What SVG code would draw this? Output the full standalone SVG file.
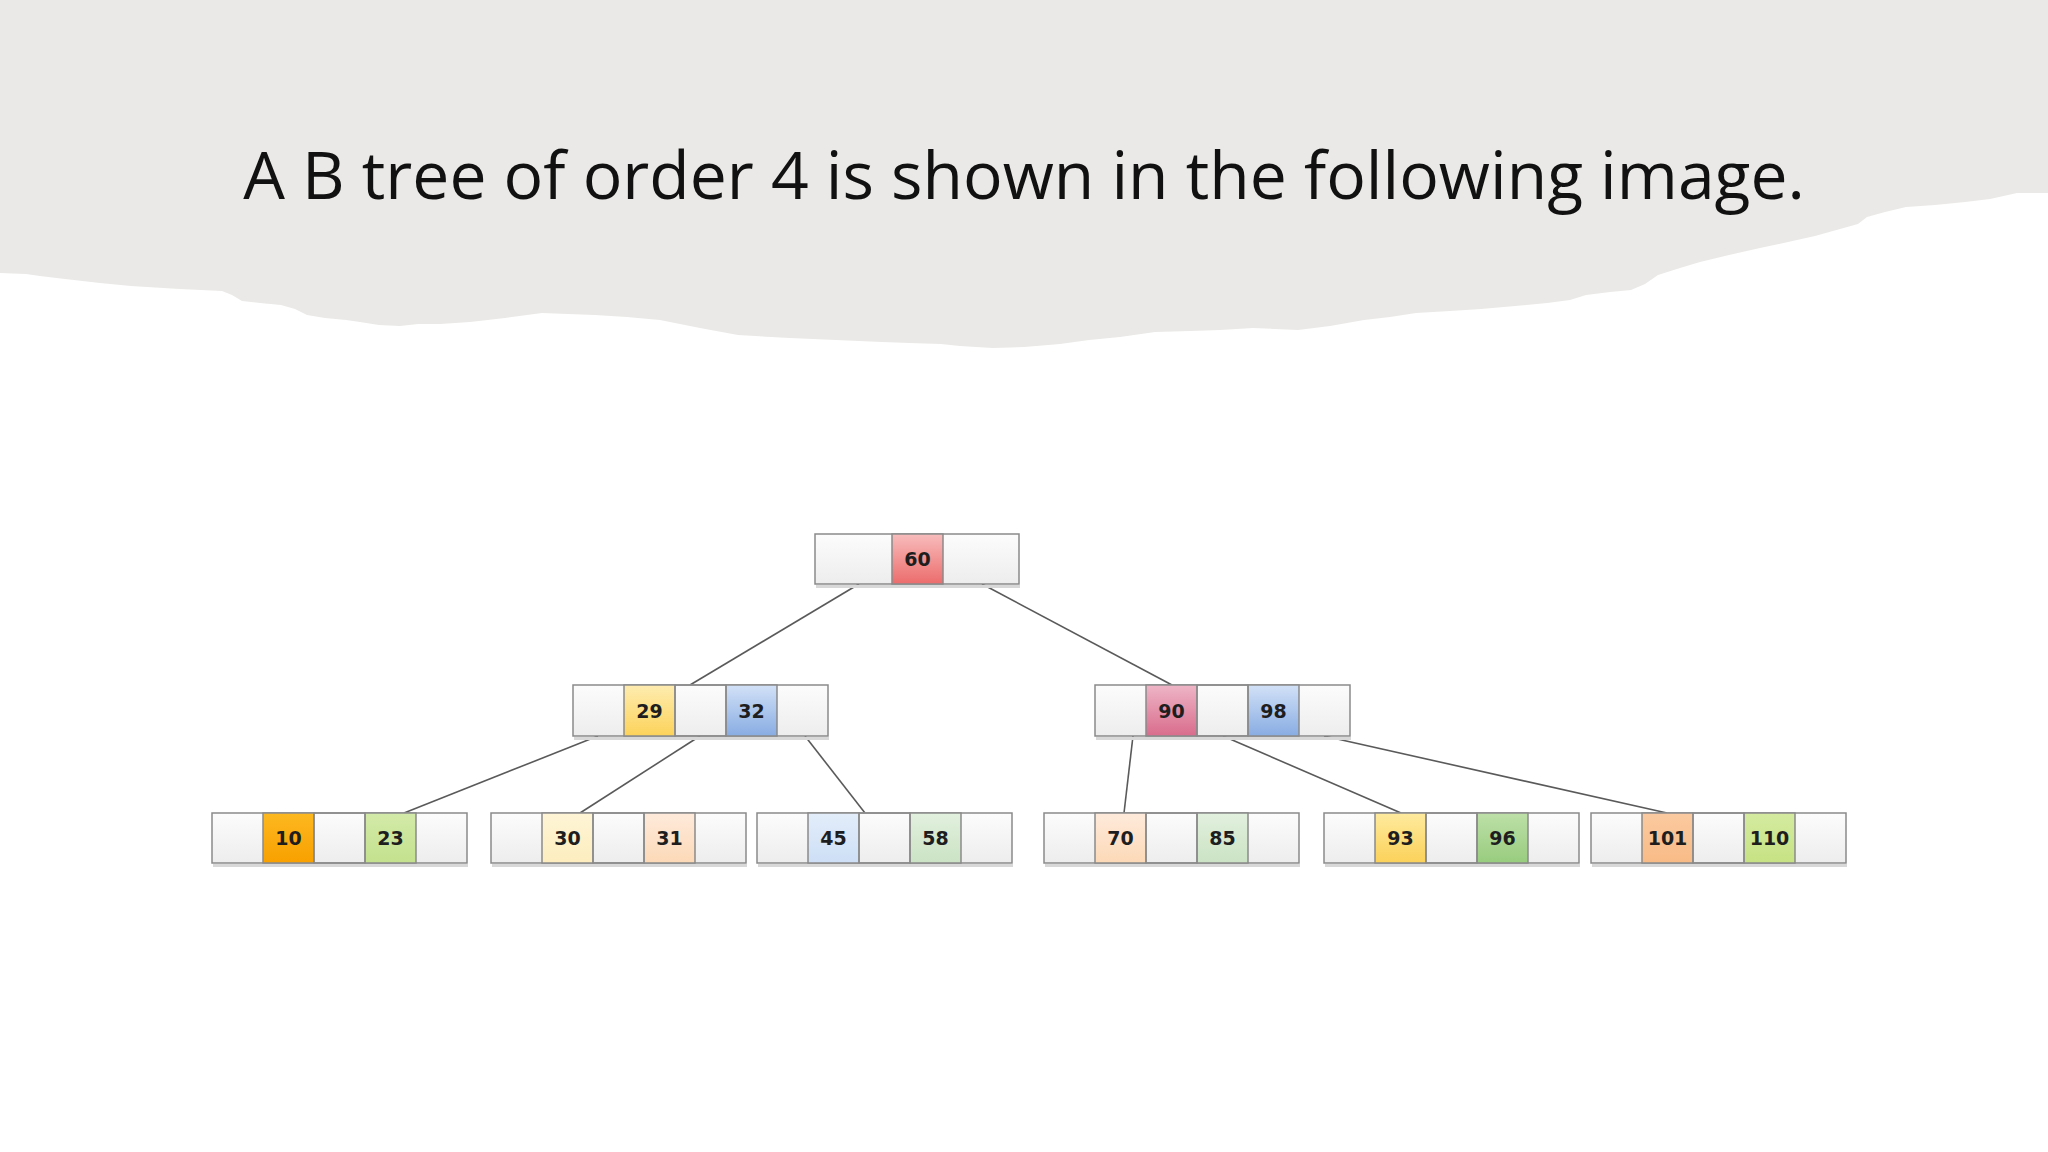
<svg xmlns="http://www.w3.org/2000/svg" width="2048" height="1152" viewBox="0 0 2048 1152">
<style>
.bg{fill:#ffffff}
.paper{fill:#eae9e7}
.title{font-family:"Open Sans","Noto Sans","Liberation Sans",sans-serif;font-size:66px;fill:#111111}
.box{fill:url(#gBlank);stroke:#8a8a8a;stroke-width:1.5}
.key{stroke:#8a8a8a;stroke-width:1.5}
.sh{fill:#d8d8d8}
.lbl{font-family:"DejaVu Sans","Liberation Sans",sans-serif;font-weight:bold;font-size:19px;fill:#1e1e1e;text-anchor:middle}
.edge{stroke:#5a5a5a;stroke-width:1.6;fill:none}
</style>
<defs>
<linearGradient id="gBlank" x1="0" y1="0" x2="0" y2="1"><stop offset="0" stop-color="#fcfcfc"/><stop offset="1" stop-color="#ededed"/></linearGradient>
<linearGradient id="gRed" x1="0" y1="0" x2="0" y2="1"><stop offset="0" stop-color="#f8bcbc"/><stop offset="1" stop-color="#ec6c6c"/></linearGradient>
<linearGradient id="gYel" x1="0" y1="0" x2="0" y2="1"><stop offset="0" stop-color="#feecb0"/><stop offset="1" stop-color="#fcd35a"/></linearGradient>
<linearGradient id="gBlue" x1="0" y1="0" x2="0" y2="1"><stop offset="0" stop-color="#d2e1f7"/><stop offset="1" stop-color="#88ace2"/></linearGradient>
<linearGradient id="gPink" x1="0" y1="0" x2="0" y2="1"><stop offset="0" stop-color="#eeb5c6"/><stop offset="1" stop-color="#d96c8d"/></linearGradient>
<linearGradient id="gOrange" x1="0" y1="0" x2="0" y2="1"><stop offset="0" stop-color="#fdb820"/><stop offset="1" stop-color="#f8a000"/></linearGradient>
<linearGradient id="gLime" x1="0" y1="0" x2="0" y2="1"><stop offset="0" stop-color="#d3eaa8"/><stop offset="1" stop-color="#c3e18e"/></linearGradient>
<linearGradient id="gPaleYel" x1="0" y1="0" x2="0" y2="1"><stop offset="0" stop-color="#fef5d6"/><stop offset="1" stop-color="#fdedbe"/></linearGradient>
<linearGradient id="gPeach" x1="0" y1="0" x2="0" y2="1"><stop offset="0" stop-color="#feeadb"/><stop offset="1" stop-color="#fcd9b7"/></linearGradient>
<linearGradient id="gPaleBlue" x1="0" y1="0" x2="0" y2="1"><stop offset="0" stop-color="#e3edfa"/><stop offset="1" stop-color="#cddff6"/></linearGradient>
<linearGradient id="gPaleGreen" x1="0" y1="0" x2="0" y2="1"><stop offset="0" stop-color="#e2f0de"/><stop offset="1" stop-color="#cbe3c4"/></linearGradient>
<linearGradient id="gYel2" x1="0" y1="0" x2="0" y2="1"><stop offset="0" stop-color="#feea9e"/><stop offset="1" stop-color="#fbd159"/></linearGradient>
<linearGradient id="gGreen" x1="0" y1="0" x2="0" y2="1"><stop offset="0" stop-color="#bde0a8"/><stop offset="1" stop-color="#98cc7e"/></linearGradient>
<linearGradient id="gApricot" x1="0" y1="0" x2="0" y2="1"><stop offset="0" stop-color="#fbcaa0"/><stop offset="1" stop-color="#f8bb86"/></linearGradient>
<linearGradient id="gLime2" x1="0" y1="0" x2="0" y2="1"><stop offset="0" stop-color="#d4eba0"/><stop offset="1" stop-color="#c6e283"/></linearGradient>
</defs>
<rect class="bg" x="0" y="0" width="2048" height="1152"/>
<path class="paper" d="M0,0 H2048 V193 L2017,193 L1990,199 L1965,202 L1935,205 L1906,207 L1885,212 L1867,217 L1858,224 L1840,229 L1815,236 L1788,242 L1760,248 L1729,255 L1700,262 L1680,268 L1658,275 L1645,284 L1631,290 L1610,292 L1586,295 L1570,300 L1547,303 L1515,306 L1481,309 L1450,311 L1416,313 L1390,317 L1364,320 L1330,326 L1298,330 L1275,329 L1253,328 L1220,330 L1190,331 L1155,332 L1120,337 L1089,340 L1060,344 L1024,347 L993,348 L960,346 L941,344 L910,343 L882,342 L836,340 L790,338 L738,335 L700,328 L660,320 L627,317 L595,315 L568,314 L542,313 L505,318 L470,322 L440,324 L418,324 L400,326 L379,325 L360,322 L346,320 L325,318 L307,315 L295,309 L281,305 L260,303 L242,301 L232,295 L222,291 L180,289 L131,286 L100,283 L65,279 L40,276 L26,274 L0,273 Z"/>
<text class="title" x="1024" y="199" text-anchor="middle">A B tree of order 4 is shown in the following image.</text>

<g id="connectors">
<line class="edge" x1="859" y1="584" x2="690" y2="685"/>
<line class="edge" x1="982" y1="584" x2="1172" y2="685"/>
<line class="edge" x1="598" y1="736" x2="404" y2="813"/>
<line class="edge" x1="700" y1="736" x2="580" y2="813"/>
<line class="edge" x1="805" y1="736" x2="865" y2="813"/>
<line class="edge" x1="1133" y1="736" x2="1124" y2="813"/>
<line class="edge" x1="1223" y1="736" x2="1401" y2="813"/>
<line class="edge" x1="1324" y1="736" x2="1667" y2="813"/>
</g>

<g id="node-root">
<rect class="sh" x="816" y="585" width="204" height="3"/>
<rect class="box" x="815" y="534" width="204" height="50"/>
<rect class="key" fill="url(#gRed)" x="892" y="534" width="51" height="50"/>
<text class="lbl" x="917.5" y="566">60</text>
</g>

<g id="node-29-32">
<rect class="sh" x="574" y="737" width="255" height="3"/>
<rect class="box" x="573" y="685" width="255" height="51"/>
<rect class="key" fill="url(#gYel)" x="624" y="685" width="51" height="51"/>
<rect class="key" fill="url(#gBlue)" x="726" y="685" width="51" height="51"/>
<rect class="key" fill="none" x="675" y="685" width="51" height="51"/>
<text class="lbl" x="649.5" y="717.5">29</text>
<text class="lbl" x="751.5" y="717.5">32</text>
</g>

<g id="node-90-98">
<rect class="sh" x="1096" y="737" width="255" height="3"/>
<rect class="box" x="1095" y="685" width="255" height="51"/>
<rect class="key" fill="url(#gPink)" x="1146" y="685" width="51" height="51"/>
<rect class="key" fill="url(#gBlue)" x="1248" y="685" width="51" height="51"/>
<rect class="key" fill="none" x="1197" y="685" width="51" height="51"/>
<text class="lbl" x="1171.5" y="717.5">90</text>
<text class="lbl" x="1273.5" y="717.5">98</text>
</g>

<g id="node-10-23">
<rect class="sh" x="213" y="864" width="255" height="3"/>
<rect class="box" x="212" y="813" width="255" height="50"/>
<rect class="key" fill="url(#gOrange)" x="263" y="813" width="51" height="50"/>
<rect class="key" fill="url(#gLime)" x="365" y="813" width="51" height="50"/>
<rect class="key" fill="none" x="314" y="813" width="51" height="50"/>
<text class="lbl" x="288.5" y="845">10</text>
<text class="lbl" x="390.5" y="845">23</text>
</g>

<g id="node-30-31">
<rect class="sh" x="492" y="864" width="255" height="3"/>
<rect class="box" x="491" y="813" width="255" height="50"/>
<rect class="key" fill="url(#gPaleYel)" x="542" y="813" width="51" height="50"/>
<rect class="key" fill="url(#gPeach)" x="644" y="813" width="51" height="50"/>
<rect class="key" fill="none" x="593" y="813" width="51" height="50"/>
<text class="lbl" x="567.5" y="845">30</text>
<text class="lbl" x="669.5" y="845">31</text>
</g>

<g id="node-45-58">
<rect class="sh" x="758" y="864" width="255" height="3"/>
<rect class="box" x="757" y="813" width="255" height="50"/>
<rect class="key" fill="url(#gPaleBlue)" x="808" y="813" width="51" height="50"/>
<rect class="key" fill="url(#gPaleGreen)" x="910" y="813" width="51" height="50"/>
<rect class="key" fill="none" x="859" y="813" width="51" height="50"/>
<text class="lbl" x="833.5" y="845">45</text>
<text class="lbl" x="935.5" y="845">58</text>
</g>

<g id="node-70-85">
<rect class="sh" x="1045" y="864" width="255" height="3"/>
<rect class="box" x="1044" y="813" width="255" height="50"/>
<rect class="key" fill="url(#gPeach)" x="1095" y="813" width="51" height="50"/>
<rect class="key" fill="url(#gPaleGreen)" x="1197" y="813" width="51" height="50"/>
<rect class="key" fill="none" x="1146" y="813" width="51" height="50"/>
<text class="lbl" x="1120.5" y="845">70</text>
<text class="lbl" x="1222.5" y="845">85</text>
</g>

<g id="node-93-96">
<rect class="sh" x="1325" y="864" width="255" height="3"/>
<rect class="box" x="1324" y="813" width="255" height="50"/>
<rect class="key" fill="url(#gYel2)" x="1375" y="813" width="51" height="50"/>
<rect class="key" fill="url(#gGreen)" x="1477" y="813" width="51" height="50"/>
<rect class="key" fill="none" x="1426" y="813" width="51" height="50"/>
<text class="lbl" x="1400.5" y="845">93</text>
<text class="lbl" x="1502.5" y="845">96</text>
</g>

<g id="node-101-110">
<rect class="sh" x="1592" y="864" width="255" height="3"/>
<rect class="box" x="1591" y="813" width="255" height="50"/>
<rect class="key" fill="url(#gApricot)" x="1642" y="813" width="51" height="50"/>
<rect class="key" fill="url(#gLime2)" x="1744" y="813" width="51" height="50"/>
<rect class="key" fill="none" x="1693" y="813" width="51" height="50"/>
<text class="lbl" x="1667.5" y="845">101</text>
<text class="lbl" x="1769.5" y="845">110</text>
</g>
</svg>
